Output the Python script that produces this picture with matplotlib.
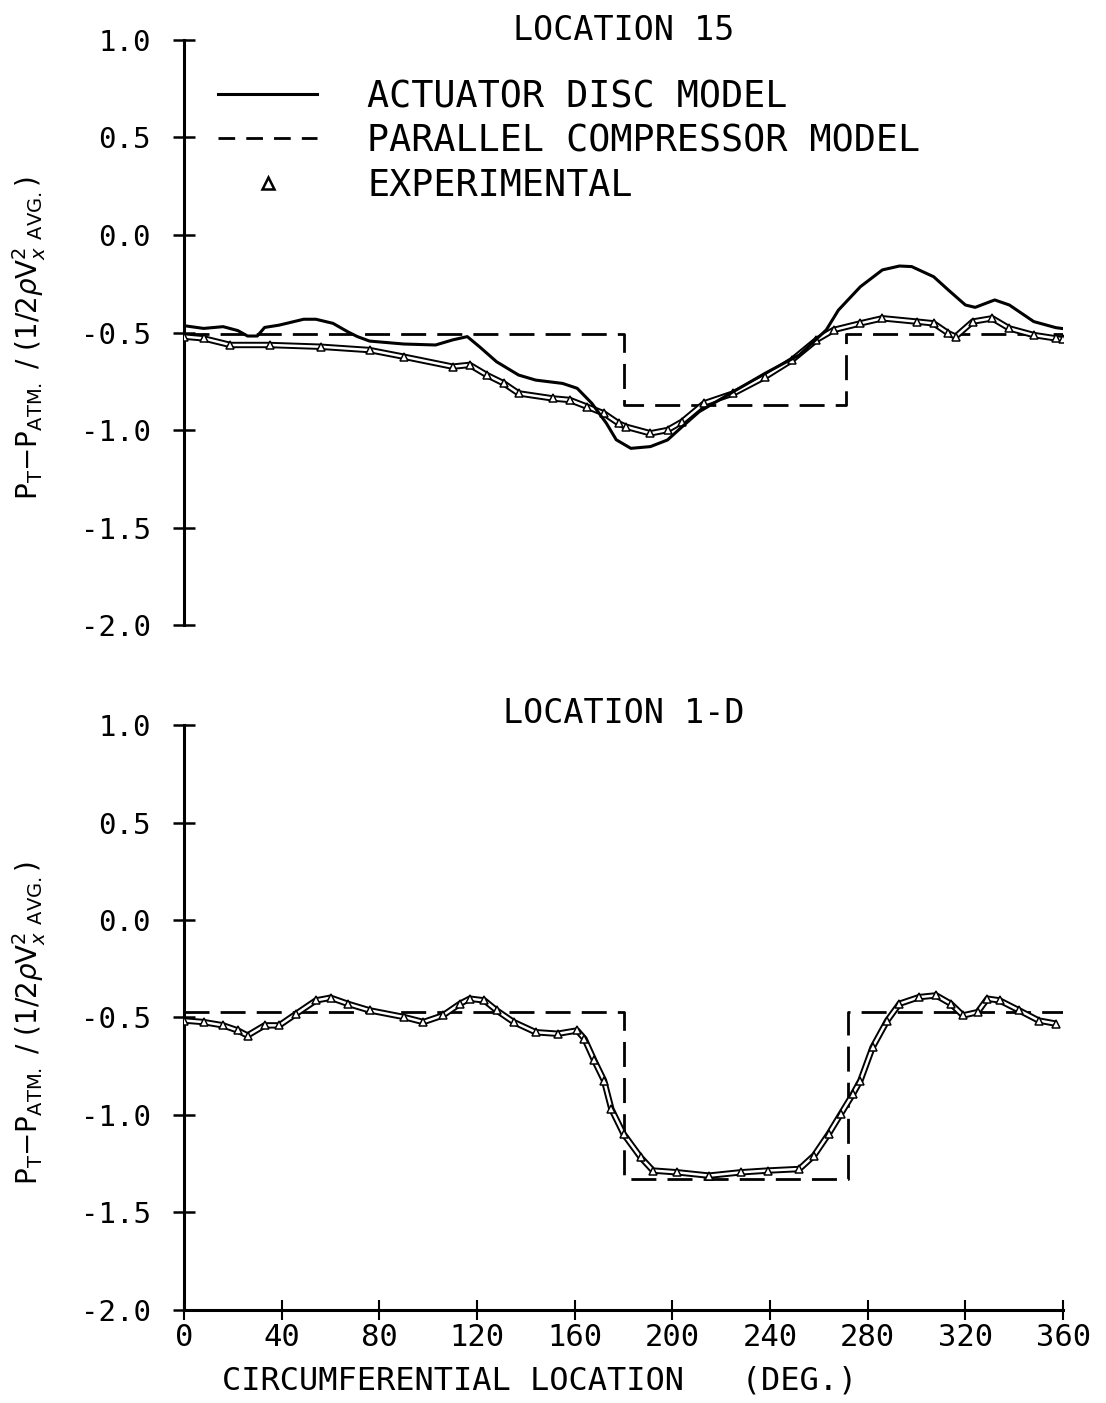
import matplotlib
matplotlib.use("Agg")
import matplotlib.pyplot as plt
from matplotlib.lines import Line2D

# circumferential position (deg) and total pressure coefficient, location 15
loc15_disc_deg = [0, 8, 16, 22, 26, 30, 33, 39, 49, 54, 61, 67, 71, 76, 90, 103, 110, 116,
                  121, 128, 137, 144, 155, 161, 167, 173, 177, 183, 191, 198, 204, 211, 225,
                  238, 252, 263, 268, 277, 286, 293, 298, 307, 313, 320, 324, 332, 338, 348,
                  357, 360]
loc15_disc_cp = [-0.465, -0.479, -0.47, -0.49, -0.518, -0.518, -0.474, -0.462, -0.432, -0.432,
                 -0.453, -0.496, -0.521, -0.544, -0.559, -0.564, -0.538, -0.521, -0.573, -0.65,
                 -0.718, -0.744, -0.761, -0.786, -0.863, -0.966, -1.05, -1.094, -1.085, -1.051,
                 -0.983, -0.906, -0.803, -0.709, -0.615, -0.487, -0.385, -0.265, -0.179, -0.159,
                 -0.162, -0.214, -0.282, -0.359, -0.371, -0.333, -0.359, -0.444, -0.475, -0.48]

loc15_exp_deg = [0, 8, 19, 35, 56, 76, 90, 110, 117, 124, 131, 137, 151, 158, 165, 172, 178,
                 181, 191, 198, 204, 213, 225, 238, 249, 259, 266, 277, 286, 300, 307, 313, 316,
                 323, 331, 338, 348, 357, 360]
loc15_exp_cp = [-0.521, -0.53, -0.564, -0.564, -0.573, -0.59, -0.624, -0.675, -0.666, -0.718,
                -0.761, -0.812, -0.838, -0.846, -0.88, -0.915, -0.966, -0.983, -1.017, -1.0,
                -0.957, -0.863, -0.812, -0.727, -0.641, -0.538, -0.487, -0.453, -0.427, -0.444,
                -0.453, -0.504, -0.521, -0.444, -0.427, -0.479, -0.513, -0.53, -0.535]

loc15_par_deg = [0, 180, 180, 271, 271, 360]
loc15_par_cp = [-0.51, -0.51, -0.87, -0.87, -0.51, -0.51]

# location 1-D
loc1d_exp_deg = [0, 8, 16, 22, 26, 33, 39, 46, 54, 60, 67, 76, 90, 98, 106, 113, 117, 123,
                 128, 135, 144, 153, 161, 164, 168, 172, 175, 180, 187, 192, 202, 215, 228,
                 239, 252, 258, 264, 269, 274, 277, 282, 288, 293, 301, 308, 314, 319, 325,
                 329, 334, 342, 350, 357]
loc1d_exp_cp = [-0.516, -0.524, -0.541, -0.567, -0.593, -0.541, -0.541, -0.481, -0.413, -0.399,
                -0.43, -0.464, -0.498, -0.524, -0.49, -0.43, -0.404, -0.413, -0.464, -0.524,
                -0.576, -0.584, -0.567, -0.61, -0.721, -0.824, -0.97, -1.098, -1.218, -1.286,
                -1.295, -1.312, -1.295, -1.286, -1.278, -1.209, -1.098, -0.995, -0.892, -0.824,
                -0.653, -0.516, -0.43, -0.396, -0.387, -0.43, -0.49, -0.473, -0.404, -0.413,
                -0.464, -0.516, -0.532]

loc1d_par_deg = [0, 180, 180, 272, 272, 360]
loc1d_par_cp = [-0.47, -0.47, -1.33, -1.33, -0.47, -0.47]

x_ticks = list(range(0, 361, 40))
y_ticks = [1.0, 0.5, 0.0, -0.5, -1.0, -1.5, -2.0]

MONO = "DejaVu Sans Mono"
YLABEL = (r"P$_\mathrm{T}$$-$P$_\mathrm{ATM.}$ / (1/2$\rho$V$_x^2$$_\mathrm{\ AVG.}$)")
DASH = (0, (9, 4))

plt.rcParams["font.family"] = MONO
plt.rcParams["mathtext.fontset"] = "dejavusans"

fig = plt.figure(figsize=(11.06, 14.03), dpi=100)
ax_top = fig.add_axes([0.1664, 0.5545, 0.7948, 0.417])
ax_bot = fig.add_axes([0.1664, 0.0665, 0.7948, 0.4167])


def draw_experimental(ax, deg, cp):
    # hollow band with small triangle symbols along it
    ax.plot(deg, cp, color="black", lw=4.6, solid_capstyle="butt", zorder=3)
    ax.plot(deg, cp, color="white", lw=1.8, zorder=4)
    ax.plot(deg, cp, ls="none", marker="^", ms=6, mfc="white", mec="black", mew=1.1, zorder=5)


def style_axes(ax, show_x):
    ax.set_xlim(0, 360)
    ax.set_ylim(-2.0, 1.0)
    for side in ("top", "right"):
        ax.spines[side].set_visible(False)
    ax.spines["left"].set_linewidth(2.2)
    ax.set_yticks(y_ticks)
    ax.set_yticklabels([f"{v:.1f}" for v in y_ticks])
    ax.tick_params(axis="y", direction="inout", length=16, width=1.8, pad=16, labelsize=21)
    if show_x:
        ax.spines["bottom"].set_linewidth(2.2)
        ax.set_xticks(x_ticks)
        ax.set_xticklabels([str(v) for v in x_ticks])
        ax.tick_params(axis="x", direction="inout", length=15, width=1.5, pad=2, labelsize=22)
    else:
        ax.spines["bottom"].set_visible(False)
        ax.set_xticks([])
    ax.set_ylabel(YLABEL, fontsize=20, family="DejaVu Sans")
    ax.yaxis.set_label_coords(-0.155, 0.49)


# top panel
ax_top.plot(loc15_disc_deg, loc15_disc_cp, color="black", lw=2.2, zorder=6)
ax_top.plot(loc15_par_deg, loc15_par_cp, color="black", lw=2.0, ls=DASH, zorder=2)
draw_experimental(ax_top, loc15_exp_deg, loc15_exp_cp)
style_axes(ax_top, show_x=False)
ax_top.text(0.5, 1.017, "LOCATION 15", transform=ax_top.transAxes, ha="center", va="center",
            fontsize=24)

handles = [
    Line2D([], [], color="black", lw=2.2),
    Line2D([], [], color="black", lw=2.0, ls=(0, (6, 4))),
    Line2D([], [], ls="none", marker="^", ms=9, mfc="white", mec="black", mew=1.8),
]
labels = ["ACTUATOR DISC MODEL", "PARALLEL COMPRESSOR MODEL", "EXPERIMENTAL"]
ax_top.legend(handles, labels, loc="upper left", bbox_to_anchor=(0.0387, 0.935),
              frameon=False, fontsize=26.5, handlelength=2.7, handletextpad=1.35,
              labelspacing=0.2, borderpad=0, borderaxespad=0)

# bottom panel
ax_bot.plot(loc1d_par_deg, loc1d_par_cp, color="black", lw=2.0, ls=DASH, zorder=2)
draw_experimental(ax_bot, loc1d_exp_deg, loc1d_exp_cp)
style_axes(ax_bot, show_x=True)
ax_bot.text(0.5, 1.0205, "LOCATION 1-D", transform=ax_bot.transAxes, ha="center", va="center",
            fontsize=24)
ax_bot.set_xlabel("CIRCUMFERENTIAL LOCATION   (DEG.)", fontsize=23)
ax_bot.xaxis.set_label_coords(0.404, -0.095)

fig.savefig("out.png", dpi=100)
